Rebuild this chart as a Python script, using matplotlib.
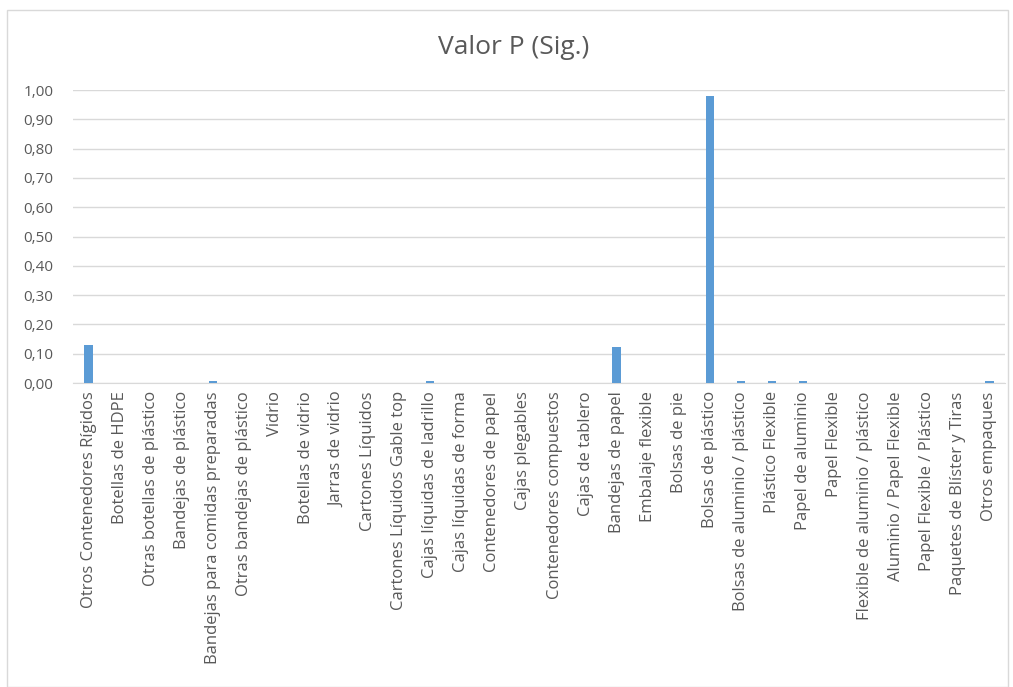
import matplotlib
matplotlib.use("Agg")
import matplotlib.pyplot as plt
from matplotlib.patches import Rectangle
from matplotlib.ticker import FuncFormatter, MultipleLocator

categories = [
    "Otros Contenedores Rígidos", "Botellas de HDPE", "Otras botellas de plástico",
    "Bandejas de plástico", "Bandejas para comidas preparadas", "Otras bandejas de plástico",
    "Vidrio", "Botellas de vidrio", "Jarras de vidrio", "Cartones Líquidos",
    "Cartones Líquidos Gable top", "Cajas líquidas de ladrillo", "Cajas líquidas de forma",
    "Contenedores de papel", "Cajas plegables", "Contenedores compuestos", "Cajas de tablero",
    "Bandejas de papel", "Embalaje flexible", "Bolsas de pie", "Bolsas de plástico",
    "Bolsas de aluminio / plástico", "Plástico Flexible", "Papel de aluminio", "Papel Flexible",
    "Flexible de aluminio / plástico", "Aluminio / Papel Flexible", "Papel Flexible / Plástico",
    "Paquetes de Blíster y Tiras", "Otros empaques",
]
values = [
    0.13, 0.0, 0.0, 0.0, 0.007, 0.0,
    0.0, 0.0, 0.0, 0.0,
    0.0, 0.007, 0.0,
    0.0, 0.0, 0.0, 0.0,
    0.123, 0.0, 0.0, 0.98,
    0.007, 0.007, 0.007, 0.0,
    0.0, 0.0, 0.0,
    0.0, 0.007,
]
title = "Valor P (Sig.)"

plt.rcParams['font.family'] = ['Open Sans', 'DejaVu Sans']
fig = plt.figure(figsize=(10.13, 6.87), dpi=100)
fig.patches.append(Rectangle((7/1013, 0), (1008-7)/1013, 1 - 10/687, transform=fig.transFigure,
                             fill=False, edgecolor='#d9d9d9', linewidth=1))
ax = fig.add_axes([73/1013, 1 - 383/687, (1005-73)/1013, (383-90)/687])

x = list(range(len(categories)))
ax.bar(x, values, width=0.27, color='#5b9bd5', zorder=3)
ax.set_xlim(-0.5, len(categories) - 0.5)
ax.set_ylim(0, 1.0)
ax.yaxis.set_major_locator(MultipleLocator(0.1))
ax.yaxis.set_major_formatter(FuncFormatter(lambda v, p: f"{v:.2f}".replace('.', ',')))
ax.grid(axis='y', color='#d9d9d9', linewidth=1, zorder=0)
ax.set_axisbelow(True)
for s in ['top', 'right', 'left']:
    ax.spines[s].set_visible(False)
ax.spines['bottom'].set_color('#d9d9d9')
ax.tick_params(axis='y', length=0, labelsize=11, labelcolor='#595959', pad=14)
ax.tick_params(axis='x', length=0, labelsize=12, labelcolor='#595959', pad=6)
ax.set_xticks(x)
ax.set_xticklabels(categories, rotation=90)
fig.text(514/1013, 1 - 47/687, title, ha='center', va='center', fontsize=19, color='#595959')
fig.savefig("out.png", dpi=100)
